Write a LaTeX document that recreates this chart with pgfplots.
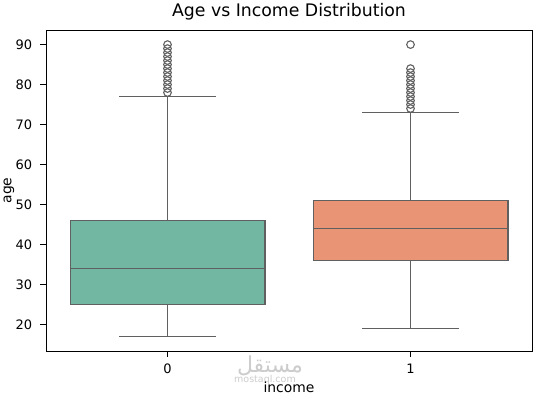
\documentclass[border=0pt]{standalone}
\usepackage{pgfplots}
\pgfplotsset{compat=1.18}
\usepackage{fontspec}
\setmainfont{DejaVu Sans}
\newfontfamily\arabicfont[Script=Arabic]{DejaVu Sans}
\TeXXeTstate=1
\definecolor{boxA}{HTML}{71B7A1}
\definecolor{boxB}{HTML}{E99575}
\definecolor{edge}{HTML}{606060}
\begin{document}
\begin{tikzpicture}
\useasboundingbox (0bp,0bp) rectangle (539bp,395bp);
\node[text=black!20, font=\arabicfont\fontsize{22bp}{24bp}\selectfont, inner sep=0pt] at (270bp,29bp) {\beginR مستقل\endR};
\node[text=black!20, font=\fontsize{9.5bp}{10bp}\selectfont, inner sep=0pt] at (265bp,15bp) {mostaql.com};
\begin{axis}[
  at={(46bp,44bp)}, anchor=south west, scale only axis,
  width=486bp, height=321bp,
  xmin=-0.5, xmax=1.5, ymin=13.35, ymax=93.65,
  xtick={0,1}, xticklabels={0,1},
  ytick={20,30,40,50,60,70,80,90},
  tick align=outside, tick pos=left,
  major tick length=5.5bp,
  tick style={black, line width=0.8bp},
  axis line style={black, line width=0.9bp},
  /pgf/number format/assume math mode=true,
  ticklabel style={font=\fontsize{13bp}{15bp}\selectfont, inner sep=0pt},
  yticklabel style={anchor=east, xshift=-8.2bp},
  xticklabel style={anchor=north, yshift=-7.5bp},
  title={Age vs Income Distribution},
  title style={font=\fontsize{17.3bp}{20bp}\selectfont, at={(axis description cs:0.5,1.0237)}, anchor=base, inner sep=0pt},
  xlabel={income},
  xlabel style={font=\fontsize{13.9bp}{16bp}\selectfont, at={(axis description cs:0.5,-0.13)}, anchor=base, inner sep=0pt},
  ylabel={age},
  ylabel style={font=\fontsize{13.9bp}{16bp}\selectfont, at={(axis description cs:-0.0761,0.5)}, anchor=center, inner sep=0pt},
  clip=false,
]
% group 0
\addplot[edge, line width=1.6bp] coordinates {(0,17) (0,25)};
\addplot[edge, line width=1.6bp] coordinates {(0,46) (0,77)};
\addplot[edge, line width=1.6bp] coordinates {(-0.2,17) (0.2,17)};
\addplot[edge, line width=1.6bp] coordinates {(-0.2,77) (0.2,77)};
\addplot[draw=edge, fill=boxA, line width=1.6bp] coordinates {(-0.4,25) (0.4,25) (0.4,46) (-0.4,46)} -- cycle;
\addplot[edge, line width=1.6bp] coordinates {(-0.4,34) (0.4,34)};
\addplot[only marks, mark=o, mark size=3.8bp, mark options={draw=edge, fill=none, line width=1.1bp}]
  coordinates {(0,78) (0,79) (0,80) (0,81) (0,82) (0,83) (0,84) (0,85) (0,86) (0,87) (0,88) (0,89) (0,90)};
% group 1
\addplot[edge, line width=1.6bp] coordinates {(1,19) (1,36)};
\addplot[edge, line width=1.6bp] coordinates {(1,51) (1,73)};
\addplot[edge, line width=1.6bp] coordinates {(0.8,19) (1.2,19)};
\addplot[edge, line width=1.6bp] coordinates {(0.8,73) (1.2,73)};
\addplot[draw=edge, fill=boxB, line width=1.6bp] coordinates {(0.6,36) (1.4,36) (1.4,51) (0.6,51)} -- cycle;
\addplot[edge, line width=1.6bp] coordinates {(0.6,44) (1.4,44)};
\addplot[only marks, mark=o, mark size=3.8bp, mark options={draw=edge, fill=none, line width=1.1bp}]
  coordinates {(1,74) (1,75) (1,76) (1,77) (1,78) (1,79) (1,80) (1,81) (1,82) (1,83) (1,84) (1,90)};
\end{axis}
\end{tikzpicture}
\end{document}
